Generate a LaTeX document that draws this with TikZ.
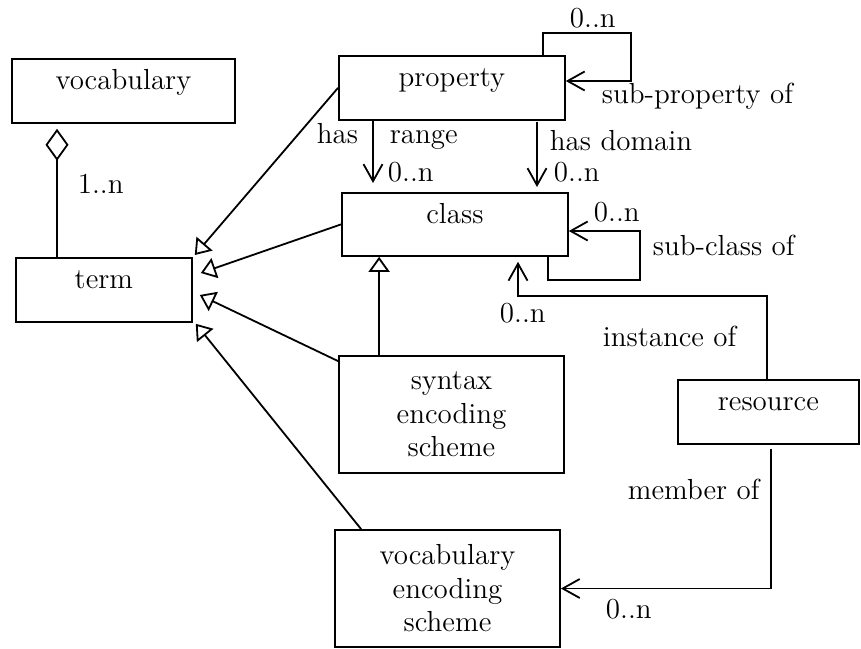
\documentclass[tikz,border=0pt]{standalone}
\usetikzlibrary{arrows.meta,calc}
\begin{document}
\begin{tikzpicture}[x=0.5pt,y=-0.5pt,
  font=\fontsize{14.5}{16.75}\selectfont,
  line width=0.9pt,
  box/.style={draw, line width=0.9pt, inner sep=0pt, anchor=north west,
    text height=15.5pt, text depth=16.5pt, minimum width=#1},
  box3/.style={draw, line width=0.9pt, inner sep=0pt, align=center,
    minimum width=#1, minimum height=58.5pt},
  lbl/.style={inner sep=0pt, anchor=base west},
  gen/.style={-{Triangle[open,length=7.5pt,width=10.5pt]}},
  assoc/.style={-{Straight Barb[length=8.5pt,width=9.5pt]}},
  agg/.style={-{Diamond[open,length=16pt,width=11.5pt]}}
]
\useasboundingbox (0,0) rectangle (861,648);

% boxes
\node[box=111.5pt] (vocab) at (11,58) {vocabulary};
\node[box=88pt] (term) at (15,257) {term};
\node[box=113pt] (property) at (338,55) {property};
\node[box=113pt, text depth=16pt] (class) at (341,192) {class};
\node[box=90.5pt] (resource) at (677,379) {resource};
\node[box3=112.5pt] (syntax) at (451.5,414.5) {syntax\\encoding\\scheme};
\node[box3=112.5pt] (ves) at (447.5,588.5) {vocabulary\\encoding\\scheme};

% aggregation
\draw[agg, shorten >=2.5pt] (term.north west) ++(42,0) coordinate (aggS) -- (aggS |- vocab.south);

% generalizations to term
\draw[gen] (property.west) -- ($(term.north east)+(2,-2)$);
\draw[gen] (class.west) -- ($(term.north east)+(8,16)$);
\draw[gen] ($(syntax.north west)+(0,6)$) -- ($(term.north east)+(7,38)$);
\draw[gen] ($(ves.north west)+(27,0)$) -- ($(term.south east)+(3,1)$);

% syntax -> class
\coordinate (s1) at ($(syntax.north west)+(41,0)$);
\draw[gen] (s1) -- (s1 |- class.south);

% has range / has domain
\coordinate (r1) at ($(property.south west)+(35,0)$);
\draw[assoc, shorten >=4.5pt] (r1) -- (r1 |- class.north);
\coordinate (d1) at ($(property.south west)+(199,1)$);
\draw[assoc, shorten >=2.5pt] (d1) -- (d1 |- class.north);

% sub-property of
\draw[assoc] ($(property.north west)+(205,0)$) -- ++(0,-22) -- ++(88,0)
  |- ($(property.north east)+(0,26)$);

% sub-class of
\draw[assoc] ($(class.south west)+(207,0)$) -- ++(0,23)
  -| ($(class.north east)+(71,39)$) -- ($(class.north east)+(0,39)$);

% instance of
\draw[assoc, shorten >=2.5pt] ($(resource.north west)+(90,0)$)
  |- ($(class.south west)+(177,39)$) -- ($(class.south west)+(177,0)$);

% member of
\draw[assoc] ($(resource.south west)+(94,4)$) |- (ves.east);

% labels
\node[lbl] (l1n) at (77,193) {1..n};
\node[lbl] (lhas) at (316,143) {has};
\node[lbl] (lrange) at (389,143) {range};
\node[lbl] (lr0n) at (387,181) {0..n};
\node[lbl] (lhd) at (549,150) {has domain};
\node[lbl] (ld0n) at (553,181) {0..n};
\node[lbl] (lsp0n) at (569,27) {0..n};
\node[lbl] (lsp) at (601,103) {sub-property of};
\node[lbl] (lsc0n) at (593,221) {0..n};
\node[lbl] (lsc) at (652,255) {sub-class of};
\node[lbl] (li0n) at (499,322) {0..n};
\node[lbl] (li) at (602,346) {instance of};
\node[lbl] (lm) at (627,499) {member of};
\node[lbl] (lm0n) at (605,618) {0..n};
\end{tikzpicture}
\end{document}
